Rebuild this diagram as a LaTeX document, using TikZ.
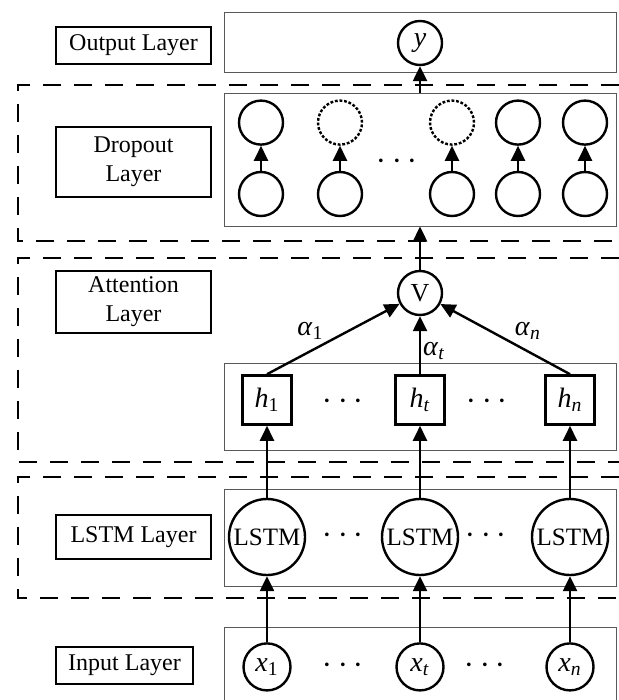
\documentclass[tikz,border=0pt]{standalone}
\usepackage{fontspec}
\setmainfont{Liberation Serif}
\usetikzlibrary{arrows.meta, positioning}
\newcommand{\vsub}[2]{\textit{#1}\textsubscript{#2}}
\tikzset{
  layerlabel/.style={rectangle, draw=black, line width=1.3pt, fill=white, minimum width=77.5pt, align=center, inner sep=2pt, font=\fontsize{12}{14.5}\selectfont},
  groupbox/.style={rectangle, draw=black!65, line width=0.5pt, minimum width=196pt},
  neuron/.style={circle, draw=black, line width=1.2pt, minimum size=22pt, inner sep=0pt, font=\fontsize{14}{14}\selectfont},
  dropped/.style={neuron, dash pattern=on 1.4pt off 0.9pt},
  lstm/.style={neuron, minimum size=38pt, font=\fontsize{12.5}{14}\selectfont},
  hidden/.style={rectangle, draw=black, line width=1.3pt, minimum size=24.5pt, inner sep=0pt, font=\fontsize{14}{14}\selectfont},
  frame/.style={line width=1.4pt, dash pattern=on 9pt off 6.5pt},
  arrow/.style={line width=1.2pt, -{Triangle[length=7.5pt, width=7pt]}},
  weight/.style={inner sep=1pt, font=\fontsize{14}{14}\selectfont},
  dotsnode/.style={inner sep=0pt, font=\fontsize{17}{17}\selectfont}
}

\begin{document}
\begin{tikzpicture}[x=0.5pt, y=-0.5pt, node distance=12.5pt]
  \useasboundingbox (0,0) rectangle (619,700);

  % dashed layer frames
  \draw[frame] (619,85) -- (18,85) -- (18,241) -- (619,241);
  \draw[frame] (619,258) -- (18,258) -- (18,462) -- (619,462);
  \draw[frame] (619,477) -- (18,477) -- (18,598) -- (619,598);

  % grey boxes around each layer
  \node (outbox) [groupbox, minimum height=30pt] at (420,43) {};
  \node (dropbox) [groupbox, minimum height=66pt] at (420,160) {};
  \node (hbox) [groupbox, minimum height=43.5pt] at (420,406.5) {};
  \node (lstmbox) [groupbox, minimum height=48.5pt] at (420,537.5) {};
  \draw[draw=black!65, line width=0.5pt] (224,700) |- (616,627) -- (616,700);

  % layer names
  \node (outlabel) [layerlabel, minimum height=18.5pt] at (133.5,45.5) {Output Layer};
  \node (droplabel) [layerlabel, minimum height=35pt] at (133.5,162) {Dropout\\Layer};
  \node (attlabel) [layerlabel, minimum height=31pt] at (133.5,302) {Attention\\Layer};
  \node (lstmlabel) [layerlabel, minimum height=22pt] at (133.5,537) {LSTM Layer};
  \node (inlabel) [layerlabel, minimum width=68.5pt, minimum height=18.5pt] at (124.5,665.5) {Input Layer};

  % input and lstm
  \node (l1) [lstm] at (267,537) {LSTM};
  \node (lt) [lstm] at (420,537) {LSTM};
  \node (ln) [lstm] at (570,537) {LSTM};
  \node (x1) [neuron, minimum size=23.5pt, below=33pt of l1] {\vsub{x}{1}};
  \node (xt) [neuron, minimum size=23.5pt, below=33pt of lt] {\vsub{x}{\textit{t}}};
  \node (xn) [neuron, minimum size=23.5pt, below=33pt of ln] {\vsub{x}{\textit{n}}};
  \node (ldots1) [dotsnode] at (343,536) {$\cdots$};
  \node (ldots2) [dotsnode] at (486,536) {$\cdots$};
  \node (xdots1) [dotsnode] at (343,666) {$\cdots$};
  \node (xdots2) [dotsnode] at (485,666) {$\cdots$};

  % attention
  \node (h1) [hidden, above=36pt of l1] {\vsub{h}{1}};
  \node (ht) [hidden, above=36pt of lt] {\vsub{h}{\textit{t}}};
  \node (hn) [hidden, above=36pt of ln] {\vsub{h}{\textit{n}}};
  \node (hdots1) [dotsnode] at (343,402) {$\cdots$};
  \node (hdots2) [dotsnode] at (487,402) {$\cdots$};
  \node (vsum) [neuron, font=\fontsize{13}{13}\selectfont] at (420,293) {V};

  % dropout
  \node (b1) [neuron] at (261,194) {};
  \node (b2) [neuron] at (340,194) {};
  \node (b3) [neuron] at (452,194) {};
  \node (b4) [neuron] at (518,194) {};
  \node (b5) [neuron] at (585,194) {};
  \node (d1) [neuron, above=of b1] {};
  \node (d2) [dropped, above=of b2] {};
  \node (d3) [dropped, above=of b3] {};
  \node (d4) [neuron, above=of b4] {};
  \node (d5) [neuron, above=of b5] {};
  \node (ddots) [dotsnode] at (397,162) {$\cdots$};

  % output
  \node (yout) [neuron] at (420,43) {\textit{y}};

  \draw [arrow] (x1) -- (l1);
  \draw [arrow] (xt) -- (lt);
  \draw [arrow] (xn) -- (ln);
  \draw [arrow] (l1) -- (h1);
  \draw [arrow] (lt) -- (ht);
  \draw [arrow] (ln) -- (hn);
  \draw [arrow] (h1.north) -- node[weight, pos=0.45, above left] {\vsub{α}{1}} (vsum);
  \draw [arrow] (ht.north) -- node[weight, pos=0.4, right] {\vsub{α}{\textit{t}}} (vsum);
  \draw [arrow] (hn.north) -- node[weight, pos=0.45, above right] {\vsub{α}{\textit{n}}} (vsum);
  \draw [arrow] (vsum) -- (dropbox.south);
  \draw [arrow] (b1) -- (d1);
  \draw [arrow] (b2) -- (d2);
  \draw [arrow] (b3) -- (d3);
  \draw [arrow] (b4) -- (d4);
  \draw [arrow] (b5) -- (d5);
  \draw [arrow] (dropbox.north) -- (yout);

\end{tikzpicture}
\end{document}
